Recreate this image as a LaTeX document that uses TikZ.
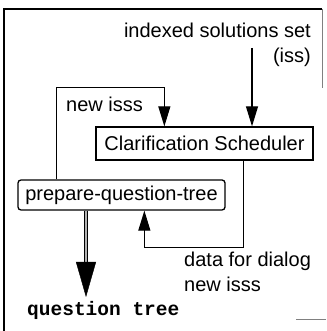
\documentclass[tikz,border=0pt]{standalone}
\usepackage{fontspec}
\setmainfont{Liberation Sans}
\setmonofont{Liberation Mono}
\usetikzlibrary{arrows.meta}
\usetikzlibrary{positioning}

\tikzset{
  procbox/.style={draw, line width=1.3pt, inner sep=0pt, font=\fontsize{20}{24}\selectfont},
  flowlabel/.style={inner sep=0pt, font=\fontsize{20}{25}\selectfont},
  flow/.style={line width=1.1pt, -{Triangle[width=12pt,length=20pt]}}
}

\begin{document}
\begin{tikzpicture}[x=1pt,y=1pt]
\useasboundingbox (0,0) rectangle (326,331);
% frame
\draw[line width=1.6pt] (4,0) -- (4,322) -- (322,322);
\draw[line width=0.6pt, gray] (322,322) -- (322,243);
\draw[line width=0.8pt, gray] (296,12) -- (326,12);
% boxes
\node[procbox, minimum width=217pt, minimum height=33pt] (sched) at (204.5,187.5) {Clarification Scheduler};
\node[procbox, rounded corners=3pt, minimum width=207pt, minimum height=30pt] (prep) at (121.5,136) {prepare-question-tree};
% labels
\node[flowlabel, anchor=north east, align=right] (isslbl) at (311,308) {indexed solutions set\\(iss)};
\node[flowlabel, anchor=west] (newlbl) at (66,227) {new isss};
\node[flowlabel, anchor=north west, align=left] (datalbl) at (184,79) {data for dialog\\new isss};
\node[inner sep=0pt, anchor=west, font=\fontsize{19.5}{24}\selectfont\ttfamily\bfseries] (qtlbl) at (27,21) {question tree};
% connectors
\coordinate (issin) at (252,283);
\coordinate (qt) at (86,34);
\draw[flow] (issin) -- (issin |- sched.north);
\draw[flow] ([xshift=39pt]prep.north west) -- ++(0,92) -| ([xshift=69pt]sched.north west);
\draw[flow] ([xshift=148pt]sched.south west) -- ++(0,-87) -| ([xshift=127pt]prep.south west);
\draw[line width=1pt, double=gray!60, double distance=2.4pt] (qt |- prep.south) -- ([yshift=33pt]qt);
\draw[-{Triangle[width=20pt,length=35pt]}] ([yshift=35pt]qt) -- (qt);
\end{tikzpicture}
\end{document}
